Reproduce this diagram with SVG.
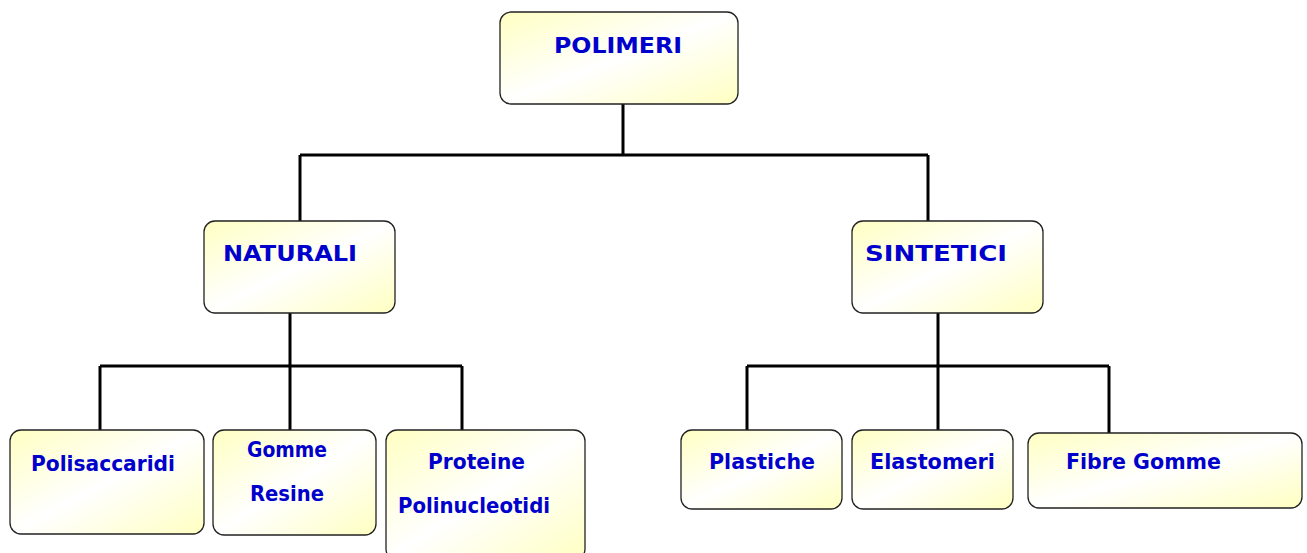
<svg xmlns="http://www.w3.org/2000/svg" width="1307" height="553" viewBox="0 0 1307 553">
<defs>
<linearGradient id="g" x1="0" y1="0" x2="1" y2="1">
<stop offset="0" stop-color="#FFFFC2"/>
<stop offset="0.5" stop-color="#FFFFFF"/>
<stop offset="1" stop-color="#FFFFC2"/>
</linearGradient>
<style>
.box{fill:url(#g);stroke:#222;stroke-width:1.3}
.t{font-family:"DejaVu Sans","Liberation Sans",sans-serif;font-weight:bold;font-size:22px;fill:#0000CC}
.c{fill:none;stroke:#000;stroke-width:3}
</style>
</defs>
<rect width="1307" height="553" fill="#fff"/>
<g id="connectors">
<path class="c" d="M623,104V155M300,155H928M300,155V221M928,155V221"/>
<path class="c" d="M290,313V366M100,366H462M100,366V430M290,366V430M462,366V430"/>
<path class="c" d="M938,313V366M747,366H1109M747,366V430M938,366V430M1109,366V433"/>
</g>
<g id="polimeri"><rect class="box" x="500" y="12" width="238" height="92" rx="11"/><text class="t" x="554" y="53" textLength="128" lengthAdjust="spacingAndGlyphs">POLIMERI</text></g>
<g id="naturali"><rect class="box" x="204" y="221" width="191" height="92" rx="11"/><text class="t" x="223" y="261" textLength="134" lengthAdjust="spacingAndGlyphs">NATURALI</text></g>
<g id="sintetici"><rect class="box" x="852" y="221" width="191" height="92" rx="11"/><text class="t" x="865" y="261" textLength="142" lengthAdjust="spacingAndGlyphs">SINTETICI</text></g>
<g id="polisaccaridi"><rect class="box" x="10" y="430" width="194" height="104" rx="11"/><text class="t" x="31" y="471" textLength="144" lengthAdjust="spacingAndGlyphs">Polisaccaridi</text></g>
<g id="gomme-resine"><rect class="box" x="213" y="430" width="163" height="105" rx="11"/><text class="t" x="247" y="457" textLength="80" lengthAdjust="spacingAndGlyphs">Gomme</text><text class="t" x="250" y="501" textLength="74" lengthAdjust="spacingAndGlyphs">Resine</text></g>
<g id="proteine"><rect class="box" x="386" y="430" width="199" height="130" rx="11"/><text class="t" x="428" y="469" textLength="97" lengthAdjust="spacingAndGlyphs">Proteine</text><text class="t" x="398" y="513" textLength="152" lengthAdjust="spacingAndGlyphs">Polinucleotidi</text></g>
<g id="plastiche"><rect class="box" x="681" y="430" width="161" height="79" rx="11"/><text class="t" x="709" y="469" textLength="106" lengthAdjust="spacingAndGlyphs">Plastiche</text></g>
<g id="elastomeri"><rect class="box" x="852" y="430" width="161" height="79" rx="11"/><text class="t" x="870" y="469" textLength="125" lengthAdjust="spacingAndGlyphs">Elastomeri</text></g>
<g id="fibre"><rect class="box" x="1028" y="433" width="274" height="75" rx="11"/><text class="t" x="1066" y="469" textLength="155" lengthAdjust="spacingAndGlyphs">Fibre Gomme</text></g>
</svg>
